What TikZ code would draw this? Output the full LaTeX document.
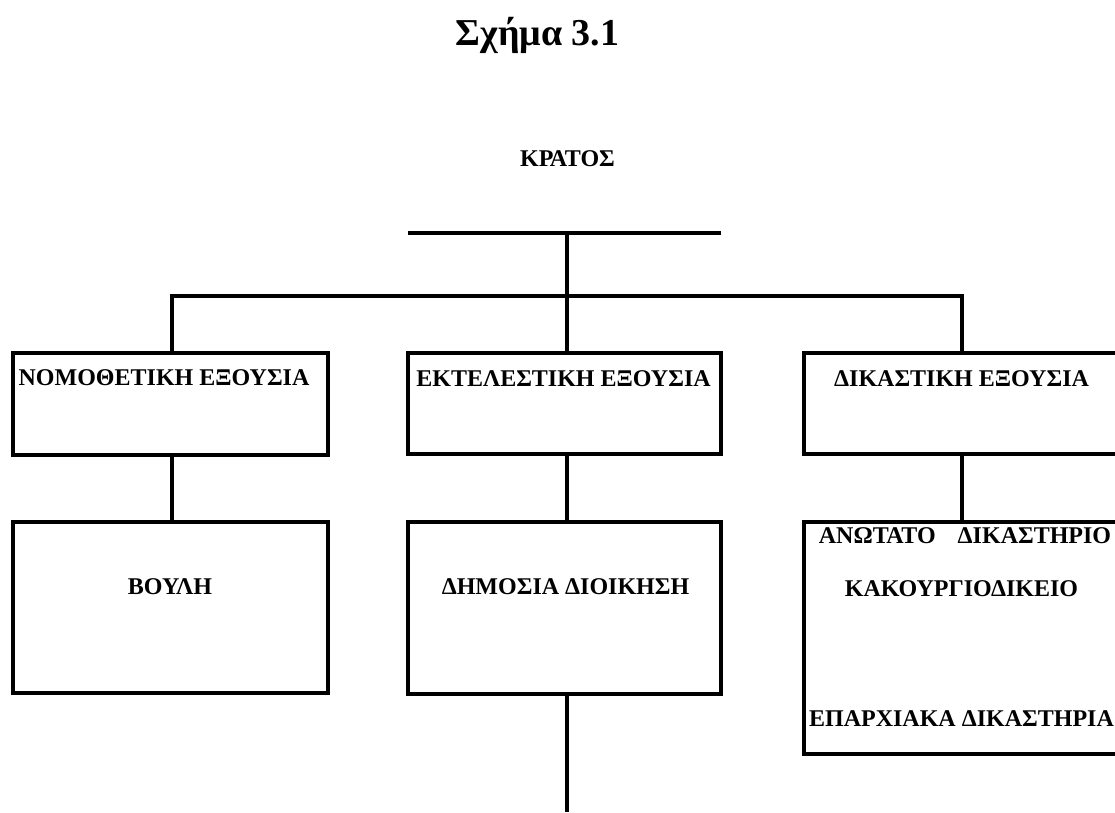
\documentclass[tikz,border=0pt]{standalone}
\usepackage{fontspec}
\setmainfont{Liberation Serif}
\begin{document}
\begin{tikzpicture}[x=1pt,y=-1pt,
  conn/.style={line width=3.2pt,line join=miter},
  boxframe/.style={draw,line width=3.2pt,inner sep=0pt,outer sep=0pt},
  openbox/.style={inner sep=0pt,outer sep=0pt},
  lbl/.style={inner sep=0pt,anchor=base,font=\fontsize{24}{26}\selectfont\bfseries},
  ttl/.style={inner sep=0pt,anchor=base,font=\fontsize{38}{40}\selectfont\bfseries}]
\useasboundingbox (0,0) rectangle (1115,812);
% title
\node[ttl] (title) at (537.5,45) {Σχήμα 3.1};
\node[lbl] (kratos) at (567.5,166) {ΚΡΑΤΟΣ};
% boxes
\node[boxframe,minimum width=315pt,minimum height=102pt] (leg) at (170.5,404) {};
\node[boxframe,minimum width=313pt,minimum height=101pt] (exe) at (564.5,403.5) {};
\node[openbox,minimum width=311pt,minimum height=101pt] (jud) at (959.5,403.5) {};
\node[boxframe,minimum width=315pt,minimum height=171pt] (bou) at (170.5,607.5) {};
\node[boxframe,minimum width=313pt,minimum height=172pt] (dim) at (564.5,608) {};
\node[openbox,minimum width=311pt,minimum height=232pt] (crt) at (959.5,638) {};
\draw[conn] (jud.north east) -- (jud.north west) -- (jud.south west) -- (jud.south east);
\draw[conn] (crt.north east) -- (crt.north west) -- (crt.south west) -- (crt.south east);
% texts
\node[lbl] (legt) at (164,385) {ΝΟΜΟΘΕΤΙΚΗ ΕΞΟΥΣΙΑ};
\node[lbl] (exet) at (563.5,386) {ΕΚΤΕΛΕΣΤΙΚΗ ΕΞΟΥΣΙΑ};
\node[lbl] (judt) at (961.5,386) {ΔΙΚΑΣΤΙΚΗ ΕΞΟΥΣΙΑ};
\node[lbl] (bout) at (170,594) {ΒΟΥΛΗ};
\node[lbl] (dimt) at (565.5,594) {ΔΗΜΟΣΙΑ ΔΙΟΙΚΗΣΗ};
\node[lbl] (ant) at (965,543) {ΑΝΩΤΑΤΟ\hspace{16pt} ΔΙΚΑΣΤΗΡΙΟ};
\node[lbl] (kakt) at (961.5,596) {ΚΑΚΟΥΡΓΙΟΔΙΚΕΙΟ};
\node[lbl] (epart) at (961.5,726) {ΕΠΑΡΧΙΑΚΑ ΔΙΚΑΣΤΗΡΙΑ};
% connectors
\coordinate (tbL) at (408,233);
\coordinate (tbR) at (721,233);
\coordinate (tb) at (567,233);
\coordinate (hL) at (172,296);
\coordinate (hR) at (962,296);
\coordinate (bend) at (567,812);
\draw[conn] (tbL) -- (tbR);
\draw[conn] (tb) -- (exe.north -| tb);
\draw[conn] (leg.north -| hL) -- (hL) -- (hR) -- (jud.north -| hR);
\draw[conn] (leg.south -| hL) -- (bou.north -| hL);
\draw[conn] (exe.south -| tb) -- (dim.north -| tb);
\draw[conn] (jud.south -| hR) -- (crt.north -| hR);
\draw[conn] (dim.south -| bend) -- (bend);
\end{tikzpicture}
\end{document}
